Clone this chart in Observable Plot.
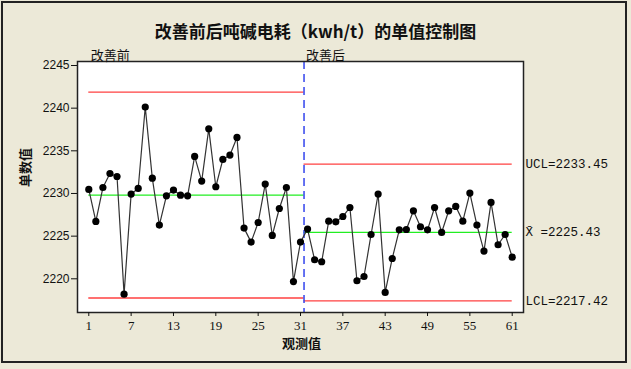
<!DOCTYPE html>
<html><head><meta charset="utf-8">
<script src="https://cdn.jsdelivr.net/npm/d3@7"></script>
<script src="https://cdn.jsdelivr.net/npm/@observablehq/plot@0.6"></script>
<style>
html,body{margin:0;padding:0;background:#ECE9D8;}
#wrap{position:relative;width:631px;height:369px;overflow:hidden;}
#wrap svg{display:block;}
#border{position:absolute;left:1px;top:1px;width:622px;height:358px;border:2px solid #222;pointer-events:none;}
</style></head><body><div id="wrap"><div id="border"></div></div>
<script>
const title = "改善前后吨碱电耗（kwh/t）的单值控制图";
const xLabel = "观测值";
const yLabel = "单数值";
const phaseNames = ["改善前", "改善后"];
const before = [2230.47, 2226.72, 2230.70, 2232.34, 2231.99, 2218.20, 2229.93, 2230.59, 2240.13, 2231.80,
  2226.30, 2229.73, 2230.40, 2229.80, 2229.73, 2234.34, 2231.45, 2237.58, 2230.79, 2233.99,
  2234.50, 2236.57, 2225.94, 2224.30, 2226.60, 2231.10, 2225.08, 2228.24, 2230.70, 2219.68, 2224.30];
const after = [2225.83, 2222.23, 2222.00, 2226.76, 2226.68, 2227.30, 2228.36, 2219.77, 2220.27, 2225.19,
  2229.93, 2218.40, 2222.38, 2225.74, 2225.78, 2227.97, 2226.10, 2225.74, 2228.36, 2225.43,
  2227.97, 2228.48, 2226.76, 2230.05, 2226.30, 2223.25, 2228.95, 2223.99, 2225.19, 2222.54];
const stageStart = [1, 31.5];
const stageEnd = [31.5, 61];
const ucl = [2241.87, 2233.45];
const cl = [2229.81, 2225.43];
const lcl = [2217.75, 2217.42];
const limitLabels = ["UCL=2233.45", "X\u0304 =2225.43", "LCL=2217.42"];
const xTicks = [1, 7, 13, 19, 25, 31, 37, 43, 49, 55, 61];
const yTicks = [2220, 2225, 2230, 2235, 2240, 2245];

const data = before.map((v, i) => ({x: i + 1, y: v}))
  .concat(after.map((v, i) => ({x: before.length + i + 1, y: v})));
const stages = stageStart.map((s, i) => ({x1: s, x2: stageEnd[i], ucl: ucl[i], cl: cl[i], lcl: lcl[i]}));
const xDomain = [-0.6, 62.6];
const rightLabels = [
  {t: limitLabels[0], y: ucl[1]},
  {t: limitLabels[1], y: cl[1]},
  {t: limitLabels[2], y: lcl[1]}
];
const phases = phaseNames.map((n, i) => ({t: n, x: stageStart[i]}));
const cjk = "'Noto Sans CJK SC', sans-serif";

const chart = Plot.plot({
  width: 631, height: 369,
  marginLeft: 77, marginRight: 108, marginTop: 61, marginBottom: 57,
  style: {background: "transparent", fontFamily: "'Liberation Sans', sans-serif", fontSize: "12px", color: "#111"},
  x: {domain: xDomain},
  y: {domain: [2216.05, 2245.47]},
  marks: [
    Plot.frame({fill: "white"}),
    Plot.ruleY(stages, {y: "ucl", x1: "x1", x2: "x2", stroke: "#ff4040", strokeWidth: 1.3}),
    Plot.ruleY(stages, {y: "lcl", x1: "x1", x2: "x2", stroke: "#ff4040", strokeWidth: 1.3}),
    Plot.ruleY(stages, {y: "cl", x1: "x1", x2: "x2", stroke: "#22ee22", strokeWidth: 1.3}),
    Plot.ruleX([stageEnd[0]], {stroke: "#3344ee", strokeWidth: 1.5, strokeDasharray: "8,5"}),
    Plot.line(data, {x: "x", y: "y", stroke: "#333", strokeWidth: 1.2}),
    Plot.dot(data, {x: "x", y: "y", r: 3.6, fill: "black", stroke: "none"}),
    Plot.frame({stroke: "#222", strokeWidth: 1.5}),
    Plot.axisX({ticks: xTicks, tickSize: 4, tickPadding: 4, tickFormat: d => String(d), label: null,
      fontFamily: "'Liberation Serif', serif", fontSize: 13}),
    Plot.axisY({ticks: yTicks, tickSize: 6, tickPadding: 2, tickFormat: d => String(d), label: null, fontSize: 12}),
    Plot.text(rightLabels, {x: xDomain[1], y: "y", text: "t", dx: 2, textAnchor: "start",
      fontFamily: "'Liberation Mono', monospace", fontSize: 12.5, fill: "#111"}),
    Plot.text(phases, {x: "x", text: "t", frameAnchor: "top", dy: -11, dx: 2, textAnchor: "start",
      fontFamily: cjk, fontSize: 13, fill: "#111"}),
    Plot.text([title], {frameAnchor: "top", dy: -36, dx: 15, fontFamily: cjk, fontWeight: "bold", fontSize: 17, fill: "#111"}),
    Plot.text([xLabel], {frameAnchor: "bottom", dy: 35, dx: 1, fontFamily: cjk, fontWeight: "bold", fontSize: 13, fill: "#111"}),
    Plot.text([yLabel], {frameAnchor: "left", dx: -52, rotate: -90, fontFamily: cjk, fontWeight: "bold", fontSize: 13, fill: "#111"})
  ]
});
document.getElementById("wrap").prepend(chart);
</script>
</body></html>
